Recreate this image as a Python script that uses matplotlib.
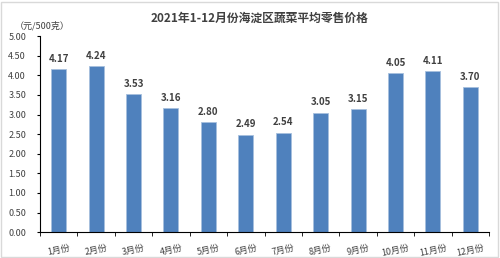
import matplotlib
matplotlib.use("Agg")
import matplotlib.pyplot as plt
from matplotlib.patches import Rectangle

plt.rcParams['font.family'] = ['Noto Sans CJK SC', 'DejaVu Sans']

months = ["1月份", "2月份", "3月份", "4月份", "5月份", "6月份",
          "7月份", "8月份", "9月份", "10月份", "11月份", "12月份"]
prices = [4.17, 4.24, 3.53, 3.16, 2.80, 2.49, 2.54, 3.05, 3.15, 4.05, 4.11, 3.70]
yticks = [0, 0.5, 1, 1.5, 2, 2.5, 3, 3.5, 4, 4.5, 5]

fig = plt.figure(figsize=(5, 2.58), dpi=100)
ax = fig.add_axes([0.08, 0.1, 0.898, 0.76])

x = list(range(len(months)))
ax.bar(x, prices, width=0.4, color="#4F81BD", edgecolor="#A7C0DE", linewidth=0.6)
for xi, v in zip(x, prices):
    ax.text(xi, v + 0.13, "%.2f" % v, ha="center", va="bottom", fontsize=7,
            fontweight="bold", color="#404040")

ax.set_xlim(-0.5, len(months) - 0.5)
ax.set_ylim(0, 5)
ax.set_yticks(yticks)
ax.set_yticklabels(["%.2f" % t for t in yticks], fontsize=6.5, color="#404040")
ax.set_xticks(x)
ax.set_xticklabels(months, fontsize=6.5, color="#404040", rotation=12)
ax.set_xticks([i - 0.5 for i in range(len(months) + 1)], minor=True)
ax.tick_params(axis="x", which="major", length=0, pad=8)
ax.tick_params(axis="x", which="minor", length=3, direction="out", color="black")
ax.tick_params(axis="y", length=2, direction="out", pad=8)

for s in ["top", "right"]:
    ax.spines[s].set_visible(False)
ax.spines["left"].set_color("black")
ax.spines["bottom"].set_color("black")

fig.text(0.52, 0.93, "2021年1-12月份海淀区蔬菜平均零售价格", ha="center", va="center",
         fontsize=8.5, fontweight="bold", color="#404040")
fig.text(0.03, 0.9, "（元/500克）", ha="left", va="center", fontsize=6.5, color="#404040")

fig.patches.append(Rectangle((0.002, 0.004), 0.994, 0.99, transform=fig.transFigure,
                             fill=False, edgecolor="#D9D9D9", linewidth=1))

fig.savefig("out.png", dpi=100)
